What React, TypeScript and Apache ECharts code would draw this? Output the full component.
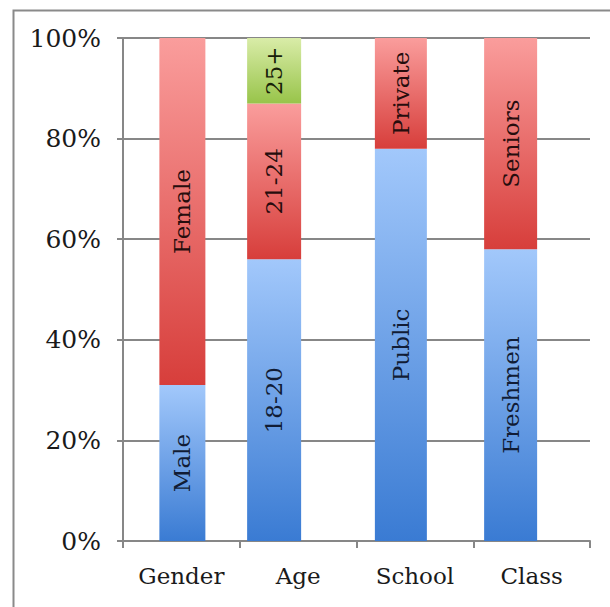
import React, { useEffect, useRef } from "react";
import * as echarts from "echarts";

// Survey composition by group, in percent of respondents
const categories = ["Gender", "Age", "School", "Class"];
const yTicks = [0, 20, 40, 60, 80, 100];

const lowerValues = [31, 56, 78, 58];
const lowerLabels = ["Male", "18-20", "Public", "Freshmen"];

const middleValues = [69, 31, 22, 42];
const middleLabels = ["Female", "21-24", "Private", "Seniors"];

const upperValues = [0, 13, 0, 0];
const upperLabels = ["", "25+", "", ""];

// Per-column bar geometry (pixels): width and horizontal nudge from the category centre
const barWidths = [46, 54, 52, 53];
const barShift = [1, -24, -14, -21];

const FONT = "'DejaVu Serif', 'Liberation Serif', serif";
const GRID_COLOR = "#878787";

type Layer = {
  values: number[];
  labels: string[];
  top: string;
  bottom: string;
  text: string;
};

const layers: Layer[] = [
  { values: lowerValues, labels: lowerLabels, top: "#a2c8fb", bottom: "#3a7bd3", text: "#111c35" },
  { values: middleValues, labels: middleLabels, top: "#fa9d9c", bottom: "#d73e3b", text: "#260d0d" },
  { values: upperValues, labels: upperLabels, top: "#d9eca8", bottom: "#98c44a", text: "#182008" },
];

function buildSeries() {
  const base = categories.map(() => 0);
  return layers.map((layer, li) => {
    const data = categories.map((_, i) => {
      const item = [i, base[i], layer.values[i]];
      base[i] += layer.values[i];
      return item;
    });
    return {
      type: "custom",
      name: "layer" + li,
      encode: { x: 0, y: 2 },
      data,
      renderItem: (_params: any, api: any) => {
        const idx = api.value(0) as number;
        const start = api.value(1) as number;
        const val = api.value(2) as number;
        if (!val) return null;
        const topPt = api.coord([idx, start + val]);
        const botPt = api.coord([idx, start]);
        const w = barWidths[idx];
        const cx = topPt[0] + barShift[idx];
        const h = botPt[1] - topPt[1];
        return {
          type: "group",
          children: [
            {
              type: "rect",
              shape: { x: cx - w / 2, y: topPt[1], width: w, height: h },
              style: {
                fill: new echarts.graphic.LinearGradient(0, 0, 0, 1, [
                  { offset: 0, color: layer.top },
                  { offset: 1, color: layer.bottom },
                ]),
              },
            },
            {
              type: "text",
              x: cx,
              y: topPt[1] + h / 2,
              rotation: Math.PI / 2,
              style: {
                text: layer.labels[idx],
                fill: layer.text,
                font: `23px ${FONT}`,
                align: "center",
                verticalAlign: "middle",
              },
            },
          ],
        };
      },
    };
  });
}

export default function App() {
  const ref = useRef<HTMLDivElement>(null);

  useEffect(() => {
    document.body.style.margin = "0";
    if (!ref.current) return;
    const chart = echarts.init(ref.current, undefined, { renderer: "svg" });
    chart.setOption({
      animation: false,
      backgroundColor: "#ffffff",
      graphic: [
        {
          type: "rect",
          left: 11,
          top: 8,
          shape: { width: 720, height: 720 },
          style: { fill: "none", stroke: "#8a8a8a", lineWidth: 2 },
          silent: true,
        },
      ],
      grid: { left: 123, right: 20, top: 38, bottom: 66, containLabel: false },
      xAxis: {
        type: "category",
        data: categories,
        boundaryGap: true,
        axisLine: { show: true, lineStyle: { color: GRID_COLOR, width: 2 } },
        axisTick: { show: true, length: 7, alignWithLabel: false, lineStyle: { color: GRID_COLOR, width: 2 } },
        axisLabel: { fontFamily: FONT, fontSize: 23, color: "#1a1a1a", margin: 23 },
        splitLine: { show: false },
      },
      yAxis: {
        type: "value",
        min: yTicks[0],
        max: yTicks[yTicks.length - 1],
        interval: yTicks[1] - yTicks[0],
        axisLine: { show: true, lineStyle: { color: GRID_COLOR, width: 2 } },
        axisTick: { show: true, length: 6, lineStyle: { color: GRID_COLOR, width: 2 } },
        axisLabel: {
          formatter: "{value}%",
          fontFamily: FONT,
          fontSize: 25,
          color: "#1a1a1a",
          margin: 22,
        },
        splitLine: { show: true, lineStyle: { color: GRID_COLOR, width: 2 } },
      },
      series: buildSeries(),
    });
    return () => chart.dispose();
  }, []);

  return <div ref={ref} style={{ width: 610, height: 607 }} />;
}
